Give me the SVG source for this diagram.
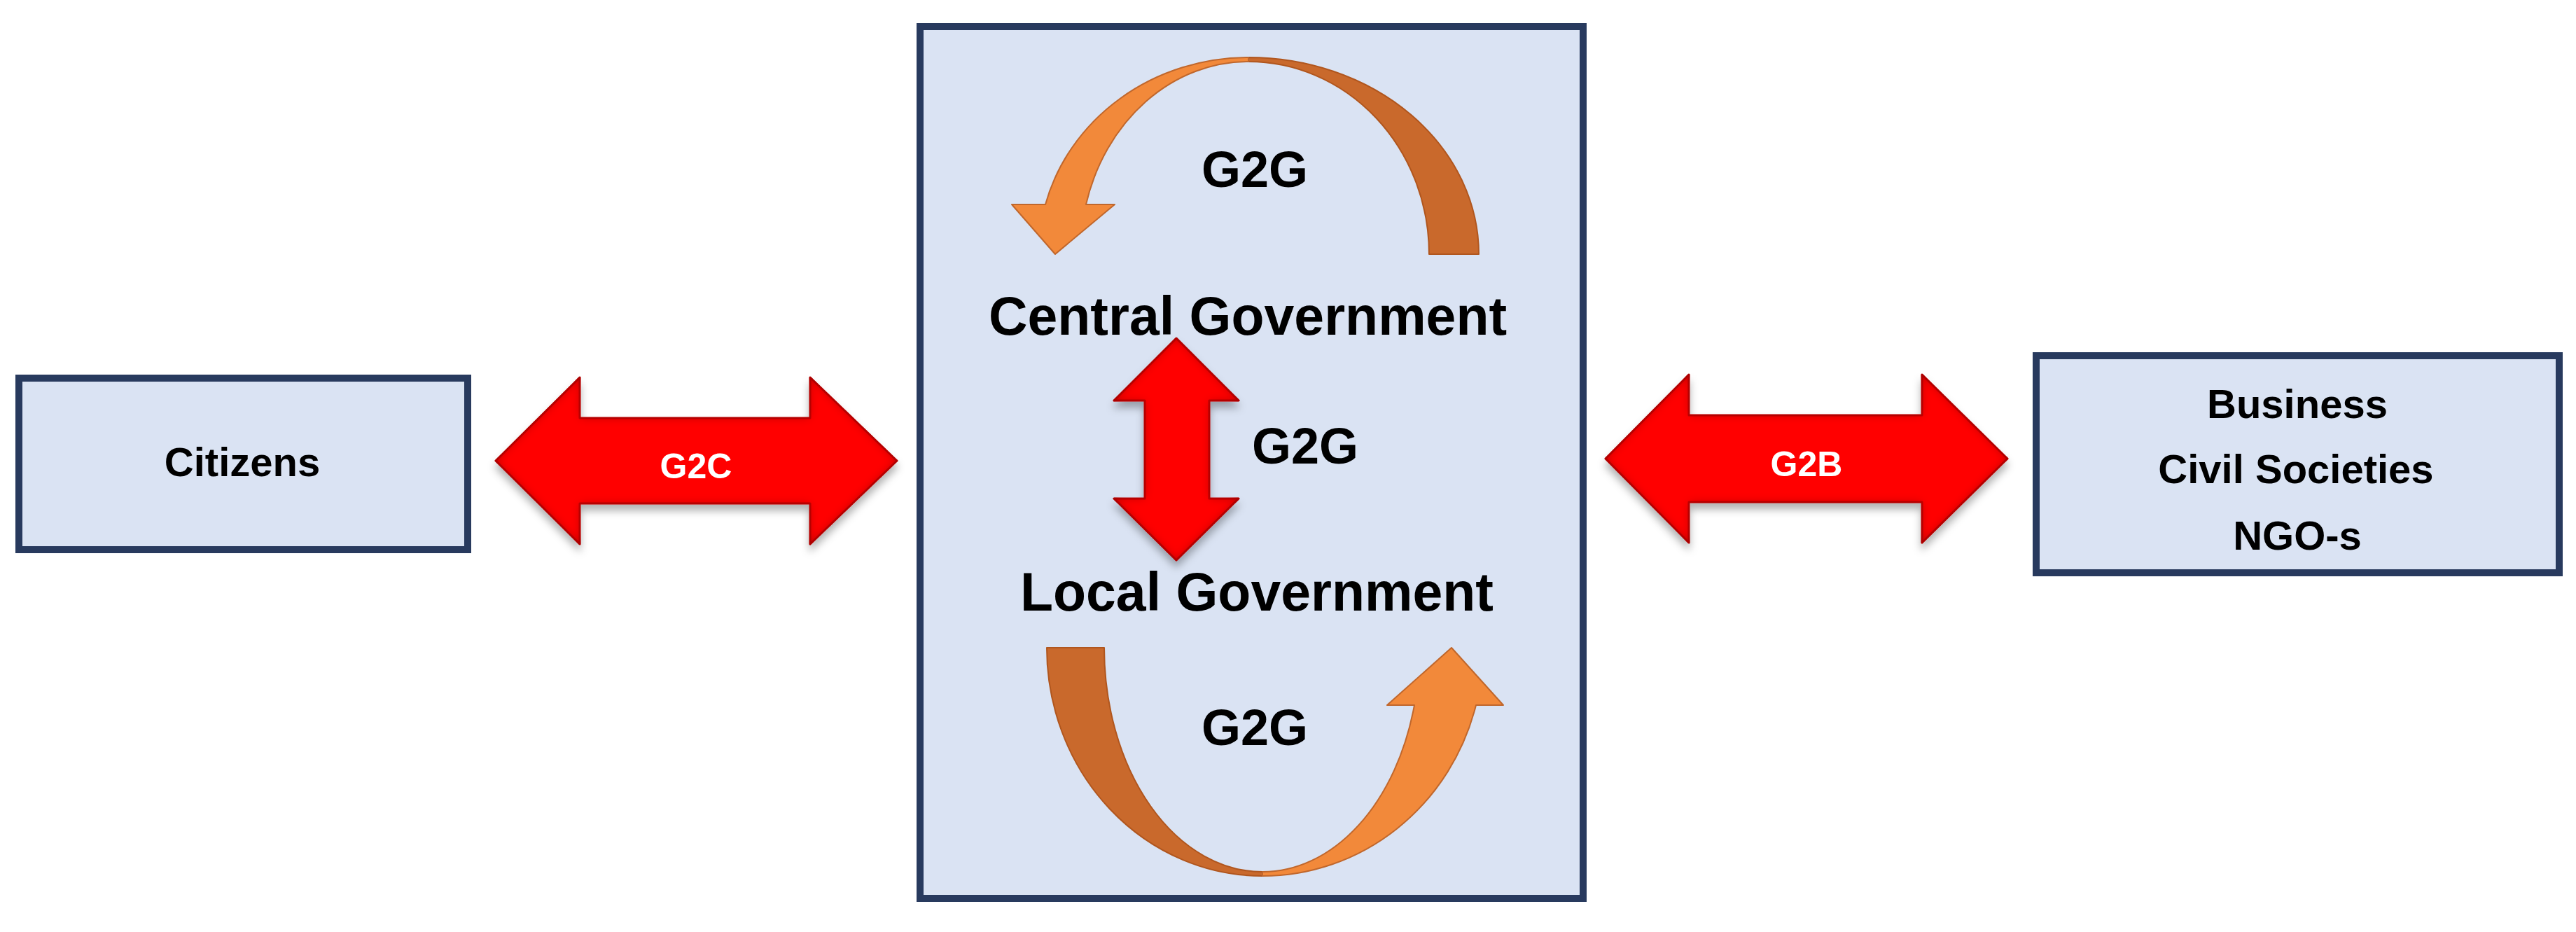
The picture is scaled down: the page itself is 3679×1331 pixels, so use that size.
<svg xmlns="http://www.w3.org/2000/svg" width="3679" height="1331" viewBox="0 0 3679 1331">
<style>
.box{fill:#DAE3F3;stroke:#283A5E;stroke-width:10}
.lbl{font-family:"Liberation Sans",Arial,sans-serif;font-weight:bold;fill:#000;text-anchor:middle}
.wlbl{font-family:"Liberation Sans",Arial,sans-serif;font-weight:bold;fill:#FFFFFF;text-anchor:middle;font-size:50px}
.red{fill:#FF0000;stroke:#C00000;stroke-width:3;stroke-linejoin:round}
.org-l{fill:#F2893A;stroke:#C0672C;stroke-width:2;stroke-linejoin:round}
.org-d{fill:#C9692C;stroke:#B0561E;stroke-width:2;stroke-linejoin:round}
</style>
<defs>
<filter id="bevel" x="-10%" y="-15%" width="120%" height="140%">
<feGaussianBlur in="SourceAlpha" stdDeviation="7" result="blur"/>
<feComposite in="SourceAlpha" in2="blur" operator="arithmetic" k2="1" k3="-1" result="edge"/>
<feFlood flood-color="#A00000" flood-opacity="0.9"/>
<feComposite in2="edge" operator="in" result="edgeCol"/>
<feComposite in="edgeCol" in2="SourceGraphic" operator="over" result="bev"/>
<feGaussianBlur in="SourceAlpha" stdDeviation="6" result="sb"/>
<feOffset in="sb" dy="9" result="so"/>
<feFlood flood-color="#000" flood-opacity="0.3"/>
<feComposite in2="so" operator="in" result="shadow"/>
<feMerge><feMergeNode in="shadow"/><feMergeNode in="bev"/></feMerge>
</filter>
</defs>
<rect width="3679" height="1331" fill="#FFFFFF"/>

<g id="citizens">
<rect class="box" x="27" y="540" width="641" height="245"/>
<text class="lbl" x="346" y="680" font-size="58">Citizens</text>
</g>

<g id="government">
<rect class="box" x="1314" y="38" width="947" height="1245"/>
</g>

<g id="central-government">
<text class="lbl" x="1782" y="478" font-size="77">Central Government</text>
</g>

<g id="local-government">
<text class="lbl" x="1795" y="872" font-size="77">Local Government</text>
</g>

<g id="business">
<rect class="box" x="2908" y="508" width="747" height="310"/>
<text class="lbl" x="3281" y="597" font-size="58">Business</text>
<text class="lbl" x="3279" y="690" font-size="58">Civil Societies</text>
<text class="lbl" x="3281" y="785" font-size="58">NGO-s</text>
</g>

<g id="connectors">
<g id="g2c">
<path class="red" filter="url(#bevel)" d="M708 658 L828 539 L828 597 L1157 597 L1157 539 L1281 658 L1157 777 L1157 719 L828 719 L828 777 Z"/>
<text class="wlbl" x="994" y="683">G2C</text>
</g>
<g id="g2b">
<path class="red" filter="url(#bevel)" d="M2293 655 L2412 535 L2412 593 L2745 593 L2745 535 L2867 655 L2745 775 L2745 717 L2412 717 L2412 775 Z"/>
<text class="wlbl" x="2580" y="680">G2B</text>
</g>
<g id="g2g-vertical">
<path class="red" filter="url(#bevel)" d="M1680 483 L1769 572 L1727 572 L1727 712 L1769 712 L1680 800 L1591 712 L1635 712 L1635 572 L1591 572 Z"/>
<text class="lbl" x="1864" y="662" font-size="72">G2G</text>
</g>
<g id="g2g-upper">
<path class="org-d" d="M1783 82 A329 281 0 0 1 2112 363 L2041 363 A258 275 0 0 0 1783 88 Z"/>
<path class="org-l" d="M1783 82 A300 281 0 0 0 1493 292 L1445 292 L1507 363 L1592 292 L1551 292 A240 275 0 0 1 1783 88 Z"/>
<text class="lbl" x="1792" y="267" font-size="72">G2G</text>
</g>
<g id="g2g-lower">
<path class="org-d" d="M1495 925 L1577 925 A226 320 0 0 0 1803 1245 L1803 1251 A308 326 0 0 1 1495 925 Z"/>
<path class="org-l" d="M1803 1251 A315 326 0 0 0 2108 1007 L2147 1007 L2073 925 L1981 1007 L2020 1007 A224 318 0 0 1 1803 1245 Z"/>
<text class="lbl" x="1792" y="1064" font-size="72">G2G</text>
</g>
</g>
</svg>
